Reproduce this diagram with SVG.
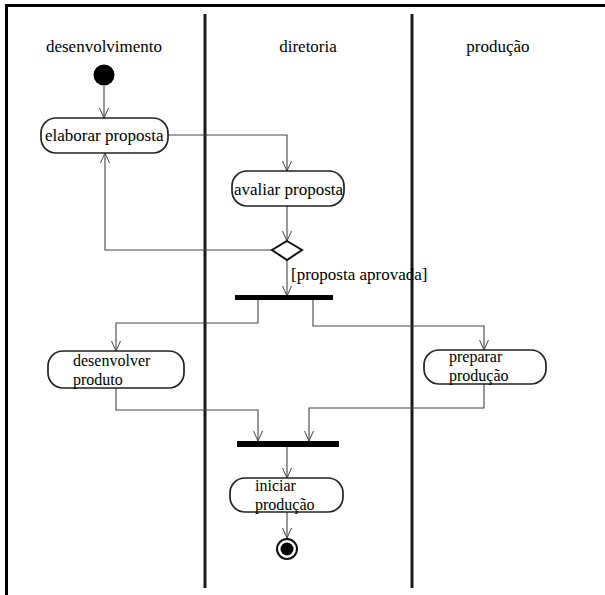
<svg xmlns="http://www.w3.org/2000/svg" width="605" height="595" viewBox="0 0 605 595">
  <defs>
    <marker id="arrow" viewBox="0 0 10 10" refX="10" refY="5" markerWidth="10" markerHeight="10" markerUnits="userSpaceOnUse" orient="auto">
      <path d="M0,0.5 L10,5 L0,9.5" fill="none" stroke="#444" stroke-width="1"/>
    </marker>
  </defs>
  <style>
    text { font-family: "Liberation Serif", "Times New Roman", serif; font-size: 17px; fill: #000; }
    text.two { font-size: 16px; }
    .frame { stroke: #000; stroke-width: 3; fill: none; }
    .lane { stroke: #1a1a1a; stroke-width: 3; }
    .action { fill: #fff; stroke: #222; stroke-width: 1.7; }
    .edge { fill: none; stroke: #444; stroke-width: 1.1; marker-end: url(#arrow); }
    .bar { fill: #000; }
  </style>
  <rect width="605" height="595" fill="#fff"/>

  <!-- frame and swimlanes -->
  <g id="swimlanes">
    <path class="frame" d="M5,5.5 H605 M6.5,4 V595"/>
    <line class="lane" x1="205" y1="14" x2="205" y2="588"/>
    <line class="lane" x1="412" y1="14" x2="412" y2="588"/>
    <text x="104" y="52" text-anchor="middle">desenvolvimento</text>
    <text x="308" y="52" text-anchor="middle">diretoria</text>
    <text x="498" y="52" text-anchor="middle">produção</text>
  </g>

  <!-- connectors -->
  <g id="connectors">
    <path class="edge" d="M104,86 V118"/>
    <path class="edge" d="M168,135 H287 V171"/>
    <path class="edge" d="M287,206 V241"/>
    <path class="edge" d="M272,250 H105 V153"/>
    <path class="edge" d="M287,260 V296"/>
    <path class="edge" d="M258,300 V323 H116 V351"/>
    <path class="edge" d="M313,300 V326 H484 V350"/>
    <path class="edge" d="M116,388 V410 H258 V441"/>
    <path class="edge" d="M484,384 V408 H309 V441"/>
    <path class="edge" d="M287,447 V478"/>
    <path class="edge" d="M287,512 V538"/>
    <text x="291" y="280">[proposta aprovada]</text>
  </g>

  <g id="initial">
    <circle cx="104" cy="75" r="10.5" fill="#000"/>
  </g>

  <g id="elaborar-proposta">
    <rect class="action" x="41" y="118" width="127" height="35" rx="15"/>
    <text x="45" y="141">elaborar proposta</text>
  </g>

  <g id="avaliar-proposta">
    <rect class="action" x="232" y="171" width="112" height="35" rx="15"/>
    <text x="234" y="195">avaliar proposta</text>
  </g>

  <g id="decisao">
    <path d="M287,241 L302,250 L287,260 L272,250 Z" fill="#fff" stroke="#111" stroke-width="2"/>
  </g>

  <g id="fork">
    <rect class="bar" x="235" y="295" width="98" height="5"/>
  </g>

  <g id="desenvolver-produto">
    <rect class="action" x="48" y="351" width="136" height="37" rx="15"/>
    <text class="two" x="73" y="366">desenvolver</text>
    <text class="two" x="73" y="385">produto</text>
  </g>

  <g id="preparar-producao">
    <rect class="action" x="424" y="350" width="122" height="34" rx="15"/>
    <text class="two" x="449" y="362">preparar</text>
    <text class="two" x="449" y="381">produção</text>
  </g>

  <g id="join">
    <rect class="bar" x="237" y="441" width="102" height="6"/>
  </g>

  <g id="iniciar-producao">
    <rect class="action" x="230" y="478" width="113" height="34" rx="15"/>
    <text class="two" x="255" y="491">iniciar</text>
    <text class="two" x="255" y="510">produção</text>
  </g>

  <g id="final">
    <circle cx="287" cy="549" r="10" fill="#fff" stroke="#111" stroke-width="2"/>
    <circle cx="287" cy="549" r="6.5" fill="#000"/>
  </g>
</svg>
